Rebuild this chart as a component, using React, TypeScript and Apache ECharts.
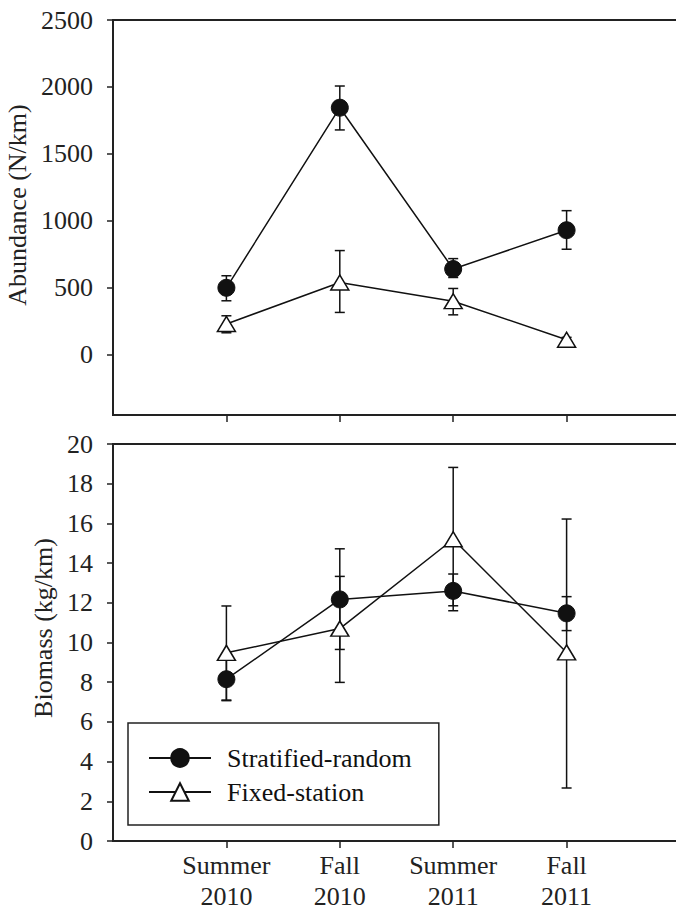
import React, { useEffect, useRef } from 'react';
import * as echarts from 'echarts';

// Categories (x positions 1..4 on the value axis)
const seasons = ['Summer 2010', 'Fall 2010', 'Summer 2011', 'Fall 2011'];
const seriesNames = ['Stratified-random', 'Fixed-station'];

// Abundance (N/km)
const abundanceStratified = [500, 1845, 640, 930];
const abundanceStratifiedLow = [403, 1679, 577, 788];
const abundanceStratifiedHigh = [590, 2007, 718, 1076];
const abundanceFixed = [230, 540, 400, 112];
const abundanceFixedLow = [164, 316, 298, 95];
const abundanceFixedHigh = [291, 778, 495, 130];
const abundanceTicks = [0, 500, 1000, 1500, 2000, 2500];

// Biomass (kg/km)
const biomassStratified = [8.15, 12.17, 12.6, 11.47];
const biomassStratifiedLow = [7.07, 9.65, 11.85, 10.6];
const biomassStratifiedHigh = [9.3, 13.33, 13.45, 12.31];
const biomassFixed = [9.48, 10.7, 15.2, 9.5];
const biomassFixedLow = [7.1, 7.99, 11.6, 2.67];
const biomassFixedHigh = [11.84, 14.72, 18.82, 16.22];

const categoryPositions = [1, 2, 3, 4];

const FONT = 'Liberation Serif, Times New Roman, Times, serif';
const AXIS = '#222';
const INK = '#111';

function pairs(values: number[]) {
  return values.map((v, i) => [categoryPositions[i], v]);
}
function errData(lo: number[], hi: number[]) {
  return lo.map((l, i) => [categoryPositions[i], l, hi[i]]);
}

function errorSeries(xi: number, lo: number[], hi: number[]) {
  return {
    type: 'custom',
    xAxisIndex: xi,
    yAxisIndex: xi,
    z: 1,
    silent: true,
    encode: { x: 0, y: [1, 2] },
    data: errData(lo, hi),
    renderItem: (params: any, api: any) => {
      const x = api.value(0);
      const a = api.coord([x, api.value(1)]);
      const b = api.coord([x, api.value(2)]);
      const w = 5;
      const style = { stroke: INK, lineWidth: 1.5 };
      return {
        type: 'group',
        children: [
          { type: 'line', shape: { x1: a[0], y1: a[1], x2: b[0], y2: b[1] }, style },
          { type: 'line', shape: { x1: a[0] - w, y1: a[1], x2: a[0] + w, y2: a[1] }, style },
          { type: 'line', shape: { x1: b[0] - w, y1: b[1], x2: b[0] + w, y2: b[1] }, style },
        ],
      };
    },
  };
}

function lineSeries(xi: number, name: string, values: number[], circle: boolean) {
  return {
    type: 'line',
    name,
    xAxisIndex: xi,
    yAxisIndex: xi,
    z: 3,
    data: pairs(values),
    symbol: circle ? 'circle' : 'triangle',
    symbolSize: circle ? 17 : [18, 15],
    showAllSymbol: true,
    lineStyle: { color: INK, width: 1.5 },
    itemStyle: circle
      ? { color: INK, borderColor: INK, borderWidth: 1 }
      : { color: '#fff', borderColor: INK, borderWidth: 1.5 },
    emphasis: { disabled: true },
  };
}

function xAxis(gridIndex: number, showLabels: boolean) {
  return {
    type: 'value',
    gridIndex,
    min: 0,
    max: 5,
    axisLine: { show: true, onZero: false, lineStyle: { color: AXIS, width: 2 } },
    axisTick: { show: true, customValues: categoryPositions, length: 7, lineStyle: { color: AXIS, width: 1.5 } },
    axisLabel: {
      show: showLabels,
      customValues: categoryPositions,
      formatter: (v: number) => (seasons[Math.round(v) - 1] || '').replace(' ', '\n'),
      fontFamily: FONT,
      fontSize: 26,
      lineHeight: 31,
      color: AXIS,
      margin: 9,
    },
    splitLine: { show: false },
  };
}

const nameStyle = (shift: number) => ({
  fontFamily: FONT,
  fontSize: 26,
  color: AXIS,
  padding: [0, 0, 0, shift],
});

const gridBase = {
  left: 113,
  right: -4,
  show: true,
  borderColor: AXIS,
  borderWidth: 2,
  backgroundColor: 'transparent',
  containLabel: false,
  outerBoundsMode: 'none',
};

export default function App() {
  const ref = useRef<HTMLDivElement>(null);

  useEffect(() => {
    document.body.style.margin = '0';
    if (!ref.current) return;
    const chart = echarts.init(ref.current, undefined, { renderer: 'svg' });
    chart.setOption({
      animation: false,
      backgroundColor: '#fff',
      grid: [
        { ...gridBase, top: 20, height: 395 },
        { ...gridBase, top: 444, height: 397 },
      ],
      xAxis: [xAxis(0, false), xAxis(1, true)],
      yAxis: [
        {
          type: 'value',
          gridIndex: 0,
          min: -450,
          max: 2500,
          name: 'Abundance (N/km)',
          nameLocation: 'middle',
          nameGap: 75,
          nameTextStyle: nameStyle(25),
          axisLine: { show: true, onZero: false, lineStyle: { color: AXIS, width: 2 } },
          axisTick: { show: true, customValues: abundanceTicks, length: 6, lineStyle: { color: AXIS, width: 1.5 } },
          axisLabel: {
            customValues: abundanceTicks,
            formatter: (v: number) => String(v),
            fontFamily: FONT,
            fontSize: 26,
            color: AXIS,
            margin: 20,
          },
          splitLine: { show: false },
        },
        {
          type: 'value',
          gridIndex: 1,
          min: 0,
          max: 20,
          interval: 2,
          name: 'Biomass (kg/km)',
          nameLocation: 'middle',
          nameGap: 57,
          nameTextStyle: nameStyle(29),
          axisLine: { show: true, onZero: false, lineStyle: { color: AXIS, width: 2 } },
          axisTick: { show: true, length: 6, lineStyle: { color: AXIS, width: 1.5 } },
          axisLabel: { formatter: (v: number) => String(v), fontFamily: FONT, fontSize: 26, color: AXIS, margin: 20 },
          splitLine: { show: false },
        },
      ],
      legend: {
        data: seriesNames,
        orient: 'vertical',
        left: 128,
        top: 723,
        padding: [22, 27, 20, 20],
        itemWidth: 62,
        itemHeight: 22,
        itemGap: 8,
        borderColor: AXIS,
        borderWidth: 1.5,
        selectedMode: false,
        textStyle: { fontFamily: FONT, fontSize: 26, color: INK, padding: [0, 0, 0, 11] },
      },
      series: [
        errorSeries(0, abundanceStratifiedLow, abundanceStratifiedHigh),
        errorSeries(0, abundanceFixedLow, abundanceFixedHigh),
        lineSeries(0, seriesNames[0], abundanceStratified, true),
        lineSeries(0, seriesNames[1], abundanceFixed, false),
        errorSeries(1, biomassStratifiedLow, biomassStratifiedHigh),
        errorSeries(1, biomassFixedLow, biomassFixedHigh),
        lineSeries(1, seriesNames[0], biomassStratified, true),
        lineSeries(1, seriesNames[1], biomassFixed, false),
      ],
    });
    return () => chart.dispose();
  }, []);

  return <div ref={ref} style={{ width: 676, height: 912 }} />;
}
